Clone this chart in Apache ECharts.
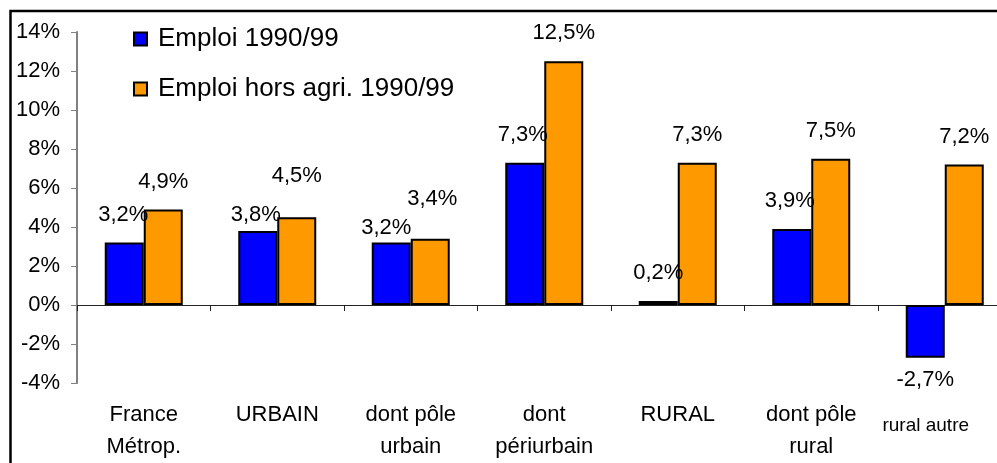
<!DOCTYPE html>
<html>
<head>
<meta charset="utf-8">
<script src="https://cdn.jsdelivr.net/npm/echarts@6/dist/echarts.min.js"></script>
<style>
  html, body { margin: 0; padding: 0; background: #fff; }
  #chart { width: 997px; height: 463px; }
</style>
</head>
<body>
<div id="chart"></div>
<script>
// Employment change 1990-1999 by type of area (%)
const categories = ['France\nMétrop.', 'URBAIN', 'dont pôle\nurbain', 'dont\npériurbain', 'RURAL', 'dont pôle\nrural', 'rural autre'];
const emploi = [3.2, 3.8, 3.2, 7.3, 0.2, 3.9, -2.7];
const emploiHorsAgri = [4.9, 4.5, 3.4, 12.5, 7.3, 7.5, 7.2];
const seriesNames = ['Emploi 1990/99', 'Emploi hors agri. 1990/99'];
const yTicks = { min: -4, max: 14, step: 2 };

const FONT = 'Liberation Sans, Arial, sans-serif';

// Hand-placed label nudges [dx, dy] so overlapping labels stay readable
const nudgeEmploi = [[-1, 0], [-2, 12], [-5, 13], [-2, 0], [0, 0], [-2, 0], [0, 0]];
const nudgeHorsAgri = [[0, 0], [0, -13], [2, -12], [0, 0], [0, 0], [0, 0], [0, 0]];

function fmt(v) {
  return v.toFixed(1).replace('.', ',') + '%';
}

function buildData(values, nudges) {
  return values.map((v, i) => ({
    value: v,
    label: {
      position: v < 0 ? 'bottom' : 'top',
      distance: v < 0 ? 11 : 17,
      offset: nudges[i]
    }
  }));
}

const chart = echarts.init(document.getElementById('chart'), null, { renderer: 'canvas' });

const barLabel = {
  show: true,
  color: '#000',
  fontFamily: FONT,
  fontSize: 22,
  formatter: p => fmt(p.value)
};

chart.setOption({
  backgroundColor: '#fff',
  animation: false,
  graphic: [{
    type: 'rect',
    shape: { x: 10.5, y: 11, width: 1100, height: 600 },
    style: { fill: 'none', stroke: '#000', lineWidth: 2.5 },
    silent: true
  }],
  legend: {
    orient: 'vertical',
    left: 133,
    top: 26,
    padding: 0,
    itemWidth: 13,
    itemHeight: 13,
    itemGap: 24,
    icon: 'rect',
    textStyle: {
      color: '#000',
      fontFamily: FONT,
      fontSize: 26,
      lineHeight: 26,
      padding: [0, 0, 0, 6]
    },
    data: seriesNames
  },
  // The plot area runs past the right edge of the canvas
  grid: {
    left: 77,
    width: 934.5,
    top: 32,
    bottom: 80,
    containLabel: false,
    outerBoundsMode: 'none'
  },
  xAxis: [{
    type: 'category',
    data: categories,
    axisLine: { onZero: true, lineStyle: { color: '#222', width: 1 } },
    axisTick: { show: true, length: 6, lineStyle: { color: '#222', width: 1 } },
    axisLabel: { show: false },
    splitLine: { show: false }
  }, {
    type: 'category',
    data: categories,
    position: 'bottom',
    axisLine: { show: false, onZero: false },
    axisTick: { show: false },
    splitLine: { show: false },
    axisLabel: {
      show: true,
      interval: 0,
      margin: 16,
      color: '#000',
      fontFamily: FONT,
      fontSize: 22,
      lineHeight: 32,
      formatter: v => v === 'rural autre' ? '{s|' + v + '}' : v,
      rich: {
        // last label sits smaller, lower and pulled left so it stays on the canvas
        s: { fontSize: 19, lineHeight: 54, fontFamily: FONT, color: '#000', padding: [0, 38, 0, 0] }
      }
    }
  }],
  yAxis: {
    type: 'value',
    min: yTicks.min,
    max: yTicks.max,
    interval: yTicks.step,
    axisLine: { show: true, lineStyle: { color: '#808080', width: 2 } },
    axisTick: { show: true, inside: false, length: 6, lineStyle: { color: '#808080', width: 1 } },
    splitLine: { show: false },
    axisLabel: {
      margin: 17,
      color: '#000',
      fontFamily: FONT,
      fontSize: 22,
      formatter: '{value}%'
    }
  },
  series: [{
    name: seriesNames[0],
    type: 'bar',
    xAxisIndex: 0,
    barWidth: 39,
    barGap: '0%',
    itemStyle: { color: '#0000FF', borderColor: '#000', borderWidth: 2 },
    label: barLabel,
    data: buildData(emploi, nudgeEmploi)
  }, {
    name: seriesNames[1],
    type: 'bar',
    xAxisIndex: 0,
    barWidth: 39,
    barGap: '0%',
    itemStyle: { color: '#FF9900', borderColor: '#000', borderWidth: 2 },
    label: barLabel,
    data: buildData(emploiHorsAgri, nudgeHorsAgri)
  }]
});
</script>
</body>
</html>
